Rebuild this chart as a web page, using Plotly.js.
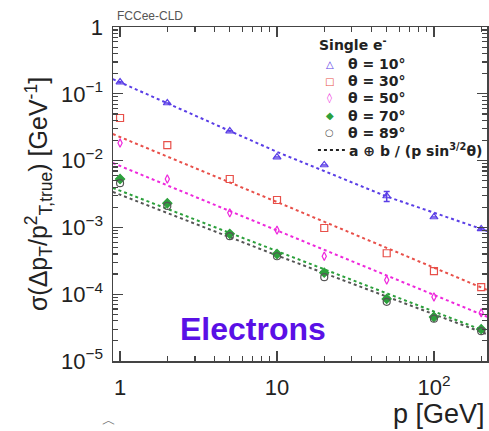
<!DOCTYPE html>
<html><head><meta charset="utf-8">
<script src="https://cdn.plot.ly/plotly-3.0.1.min.js"></script>
<style>html,body{margin:0;padding:0;background:#fff}#c{width:489px;height:431px}</style>
</head><body><div id="c"></div>
<script>
// data
const p = [1, 2, 5, 10, 20, 50, 100, 200];
const res10 = [0.150, 0.0728, 0.0277, 0.0113, 0.0086, 0.00295, 0.00143, 0.00095];
const err10 = [0, 0, 0, 0, 0, 0.0005, 0, 0];
const res30 = [0.0434, 0.0171, 0.0053, 0.00257, 0.00098, 0.00041, 0.000222, 0.000128];
const res50 = [0.0183, 0.0053, 0.00165, 0.00091, 0.00037, 0.000163, 0.000091, 0.0000525];
const res70 = [0.0053, 0.0023, 0.00080, 0.00040, 0.00021, 0.000085, 0.0000456, 0.000030];
const res89 = [0.0046, 0.0021, 0.00074, 0.00037, 0.00018, 0.000077, 0.000043, 0.000028];
// fit curves
const fitP10 = [0.9, 10, 50, 220];
const fit10 = [0.166, 0.0135, 0.0029, 0.00088];
const fitP = [0.9, 10, 220];
const fit30 = [0.025, 0.0024, 0.000115];
const fit50 = [0.0092, 0.0009, 0.0000456];
const fit70 = [0.0039, 0.00044, 0.000027];
const fit89 = [0.0034, 0.00038, 0.000025];
const yTickVals = [1, 0.1, 0.01, 0.001, 0.0001, 0.00001];
const yTickText = ['1', '10<sup>−1</sup>', '10<sup>−2</sup>', '10<sup>−3</sup>', '10<sup>−4</sup>', '10<sup>−5</sup>'];
const xTickVals = [1, 10, 100];
const xTickText = ['1', '10', '10<sup>2</sup>'];
const legendNames = ['θ = 10°', 'θ = 30°', 'θ = 50°', 'θ = 70°', 'θ = 89°'];
const legendGlyphs = ['△', '□', '◊', '◆', '○'];
const fitLabel = 'a ⊕ b / (p sin<sup>3/2</sup>θ)';

const C = {b:'#5a3ee6', r:'#e8504a', m:'#ee28dc', g:'#2ca03c', k:'#555555'};
const colors = [C.b, C.r, C.m, C.g, C.k];
function fit(x, y, col){
  return {x:x, y:y, type:'scatter', mode:'lines', line:{color:col, width:2, dash:'dot'},
          showlegend:false, hoverinfo:'skip'};
}
function pts(y, col, sym, name, size, extra){
  const t = {x:p, y:y, type:'scatter', mode:'markers', name:name, showlegend:false,
    marker:{symbol:sym, color:col, size:size||7, line:{color:col, width:1.2}}};
  return Object.assign(t, extra||{});
}
const traces = [
  fit(fitP10, fit10, C.b),
  fit(fitP, fit30, C.r),
  fit(fitP, fit50, C.m),
  fit(fitP, fit70, C.g),
  fit(fitP, fit89, C.k),
  pts(res10, C.b, 'triangle-up-open', legendNames[0], 7, {error_y:{type:'data', array:err10, color:C.b, thickness:1.5, width:3}}),
  pts(res30, C.r, 'square-open', legendNames[1], 7),
  pts(res50, C.m, 'diamond-tall-open', legendNames[2], 6),
  pts(res70, C.g, 'diamond', legendNames[3], 7),
  pts(res89, C.k, 'circle-open', legendNames[4], 7)
];
const FONT = 'Liberation Sans, Arial, sans-serif';
const LFONT = 'DejaVu Sans, sans-serif';
const axCommon = {showline:true, linecolor:'#444', linewidth:1.5, mirror:'allticks',
  ticks:'inside', tickcolor:'#444', tickwidth:1.2, ticklen:10, showgrid:false, zeroline:false,
  tickfont:{family:FONT, size:22, color:'#222'}};

// legend built from annotations (paper coordinates): rows at 64,81.2,98.4,115.6,132.8 px
const rowY = [0.889, 0.837, 0.786, 0.734, 0.683];
const anns = [
  {xref:'paper', yref:'paper', x:0.005, y:1.0, yshift:2, xanchor:'left', yanchor:'bottom', showarrow:false,
   text:'FCCee-CLD', font:{size:12, color:'#555'}},
  {xref:'paper', yref:'paper', x:0.175, y:0.095, xanchor:'left', yanchor:'middle', showarrow:false,
   text:'<b>Electrons</b>', font:{size:32, color:'#5a10e6'}},
  {xref:'paper', yref:'paper', x:1.0, y:0, xanchor:'right', yanchor:'top', yshift:-36, showarrow:false,
   text:'p [GeV]', font:{size:27, color:'#222'}},
  {xref:'paper', yref:'paper', x:0.548, y:0.948, xanchor:'left', yanchor:'middle', showarrow:false, borderpad:0,
   text:'<b>Single e<sup>-</sup></b>', font:{size:14, color:'#222', family:LFONT}},
  {xref:'paper', yref:'paper', x:0.628, y:0.632, xanchor:'left', yanchor:'middle', showarrow:false, borderpad:0,
   text:'<b>' + fitLabel + '</b>', font:{size:14, color:'#222', family:LFONT}},
  {xref:'paper', yref:'paper', x:-0.01, y:0, yshift:-50, xanchor:'center', yanchor:'top', showarrow:false, borderpad:0,
   text:'︿', font:{size:14, color:'#777'}}
];
for (let i = 0; i < legendNames.length; i++) {
  anns.push({xref:'paper', yref:'paper', x:0.580, y:rowY[i], xanchor:'center', yanchor:'middle', showarrow:false, borderpad:0,
    text:legendGlyphs[i], font:{size:10, color:colors[i], family:'DejaVu Sans'}});
  anns.push({xref:'paper', yref:'paper', x:0.626, y:rowY[i], xanchor:'left', yanchor:'middle', showarrow:false, borderpad:0,
    text:'<b>' + legendNames[i] + '</b>', font:{size:14, color:'#222', family:LFONT}});
}
const layout = {
  width:489, height:431, margin:{l:113, r:2, t:27, b:70},
  paper_bgcolor:'#fff', plot_bgcolor:'#fff',
  font:{family:FONT, color:'#222'},
  xaxis:Object.assign({}, axCommon, {type:'log', range:[-0.045, 2.338],
    tickvals:xTickVals, ticktext:xTickText, ticklabelstandoff:6,
    minor:{ticks:'inside', ticklen:5, dtick:'D1', tickcolor:'#444', tickwidth:1.2}}),
  yaxis:Object.assign({}, axCommon, {type:'log', range:[-5, 0],
    tickvals:yTickVals, ticktext:yTickText, ticklabelstandoff:4,
    minor:{ticks:'inside', ticklen:5, dtick:'D1', tickcolor:'#444', tickwidth:1.2},
    title:{text:'σ(Δp<sub>T</sub>/p<sup>2</sup><sub>T,true</sub>) [GeV<sup>-1</sup>]', font:{size:25, color:'#222'}, standoff:6}}),
  showlegend:false,
  shapes:[{type:'line', xref:'paper', yref:'paper', x0:0.548, x1:0.620, y0:0.632, y1:0.632,
    line:{color:'#222', width:2, dash:'dot'}}],
  annotations:anns
};
Plotly.newPlot('c', traces, layout, {staticPlot:true, displayModeBar:false});
</script></body></html>
